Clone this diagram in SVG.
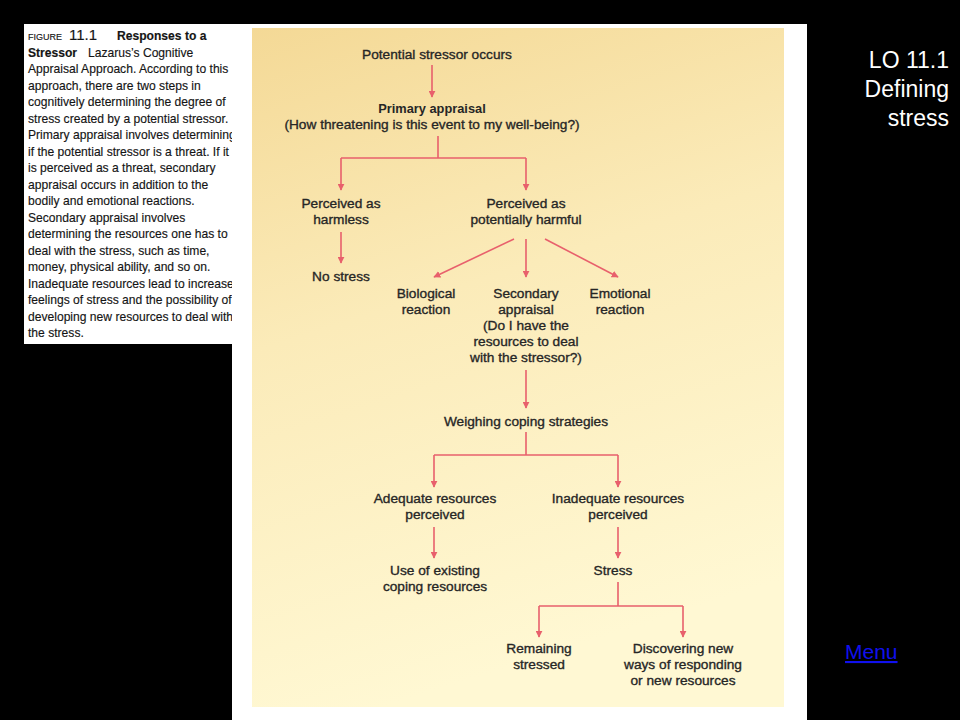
<svg xmlns="http://www.w3.org/2000/svg" width="960" height="720" viewBox="0 0 960 720">
<defs>
<linearGradient id="bg" x1="0" y1="0" x2="0.25" y2="1">
<stop offset="0" stop-color="#f4d996"/>
<stop offset="0.45" stop-color="#fbebb9"/>
<stop offset="1" stop-color="#fff8d3"/>
</linearGradient>
<marker id="ah" viewBox="0 0 10 10" refX="9" refY="5" markerWidth="7" markerHeight="7" markerUnits="userSpaceOnUse" orient="auto">
<path d="M0,0 L10,5 L0,10 z" fill="#e8606c"/>
</marker>
<clipPath id="capclip"><rect x="24" y="24" width="208" height="320"/></clipPath>
<style>
.t{font-family:"Liberation Sans",Arial,sans-serif;font-size:13.7px;fill:#262626;text-anchor:middle;stroke:#262626;stroke-width:0.35}
.b{font-weight:bold;font-size:12.8px;stroke-width:0}
.c{stroke:#e8606c;stroke-width:1.6;fill:none}
.a{stroke:#e8606c;stroke-width:1.6;fill:none;marker-end:url(#ah)}
.cap{font-family:"Liberation Sans",Arial,sans-serif;font-size:12.1px;fill:#151515;stroke:#151515;stroke-width:0.15}
.lo{font-family:"Liberation Sans",Arial,sans-serif;font-size:23px;fill:#ffffff;text-anchor:end}
</style>
</defs>
<rect x="0" y="0" width="960" height="720" fill="#000000"/>
<rect x="232" y="24" width="575" height="696" fill="#ffffff"/>
<rect x="24" y="24" width="208" height="320" fill="#ffffff"/>
<rect x="252" y="28" width="532" height="679" fill="url(#bg)"/>

<g id="caption" clip-path="url(#capclip)">
<text class="cap" x="28" y="40"><tspan font-size="9px">FIGURE</tspan><tspan font-size="15px" x="69">11.1</tspan><tspan font-weight="bold" x="117">Responses to a</tspan></text>
<text class="cap" x="28" y="56.5"><tspan font-weight="bold">Stressor</tspan><tspan x="88">Lazarus’s Cognitive</tspan></text>
<text class="cap" x="28" y="73">Appraisal Approach. According to this</text>
<text class="cap" x="28" y="89.5">approach, there are two steps in</text>
<text class="cap" x="28" y="106">cognitively determining the degree of</text>
<text class="cap" x="28" y="122.5">stress created by a potential stressor.</text>
<text class="cap" x="28" y="139">Primary appraisal involves determining</text>
<text class="cap" x="28" y="155.5">if the potential stressor is a threat. If it</text>
<text class="cap" x="28" y="172">is perceived as a threat, secondary</text>
<text class="cap" x="28" y="188.5">appraisal occurs in addition to the</text>
<text class="cap" x="28" y="205">bodily and emotional reactions.</text>
<text class="cap" x="28" y="221.5">Secondary appraisal involves</text>
<text class="cap" x="28" y="238">determining the resources one has to</text>
<text class="cap" x="28" y="254.5">deal with the stress, such as time,</text>
<text class="cap" x="28" y="271">money, physical ability, and so on.</text>
<text class="cap" x="28" y="287.5">Inadequate resources lead to increased</text>
<text class="cap" x="28" y="304">feelings of stress and the possibility of</text>
<text class="cap" x="28" y="320.5">developing new resources to deal with</text>
<text class="cap" x="28" y="337">the stress.</text>
</g>

<g id="connectors">
<path class="a" d="M432,65 V97"/>
<path class="c" d="M438,136 V158 M341,158 H526"/>
<path class="a" d="M341,158 V190"/>
<path class="a" d="M526,158 V190"/>
<path class="a" d="M341,232 V263"/>
<path class="a" d="M514,239 L434,277"/>
<path class="a" d="M526,239 V277"/>
<path class="a" d="M545,239 L618,277"/>
<path class="a" d="M526,370 V408"/>
<path class="c" d="M526,432 V455 M434,455 H618"/>
<path class="a" d="M434,455 V487"/>
<path class="a" d="M618,455 V487"/>
<path class="a" d="M434,527 V558"/>
<path class="a" d="M618,527 V558"/>
<path class="c" d="M618,582 V606 M539,606 H683"/>
<path class="a" d="M539,606 V637"/>
<path class="a" d="M683,606 V637"/>
</g>

<g id="n-start"><text class="t" x="437" y="59">Potential stressor occurs</text></g>
<g id="n-primary">
<text class="t b" x="432" y="113">Primary appraisal</text>
<text class="t" x="432" y="129">(How threatening is this event to my well-being?)</text>
</g>
<g id="n-harmless"><text class="t" x="341" y="208">Perceived as</text><text class="t" x="341" y="224">harmless</text></g>
<g id="n-harmful"><text class="t" x="526" y="208">Perceived as</text><text class="t" x="526" y="224">potentially harmful</text></g>
<g id="n-nostress"><text class="t" x="341" y="281">No stress</text></g>
<g id="n-bio"><text class="t" x="426" y="298">Biological</text><text class="t" x="426" y="314">reaction</text></g>
<g id="n-secondary">
<text class="t" x="526" y="298">Secondary</text>
<text class="t" x="526" y="314">appraisal</text>
<text class="t" x="526" y="330">(Do I have the</text>
<text class="t" x="526" y="346">resources to deal</text>
<text class="t" x="526" y="362">with the stressor?)</text>
</g>
<g id="n-emotional"><text class="t" x="620" y="298">Emotional</text><text class="t" x="620" y="314">reaction</text></g>
<g id="n-weighing"><text class="t" x="526" y="426">Weighing coping strategies</text></g>
<g id="n-adequate"><text class="t" x="435" y="503">Adequate resources</text><text class="t" x="435" y="519">perceived</text></g>
<g id="n-inadequate"><text class="t" x="618" y="503">Inadequate resources</text><text class="t" x="618" y="519">perceived</text></g>
<g id="n-use"><text class="t" x="435" y="575">Use of existing</text><text class="t" x="435" y="591">coping resources</text></g>
<g id="n-stress"><text class="t" x="613" y="575">Stress</text></g>
<g id="n-remaining"><text class="t" x="539" y="653">Remaining</text><text class="t" x="539" y="669">stressed</text></g>
<g id="n-discovering">
<text class="t" x="683" y="653">Discovering new</text>
<text class="t" x="683" y="669">ways of responding</text>
<text class="t" x="683" y="685">or new resources</text>
</g>

<g id="lo-label">
<text class="lo" x="949" y="68">LO 11.1</text>
<text class="lo" x="949" y="97">Defining</text>
<text class="lo" x="949" y="126">stress</text>
</g>
<g id="menu">
<text x="845" y="659" font-family="Liberation Sans, Arial, sans-serif" font-size="21px" fill="#1010ee" text-decoration="underline">Menu</text>
</g>
</svg>
